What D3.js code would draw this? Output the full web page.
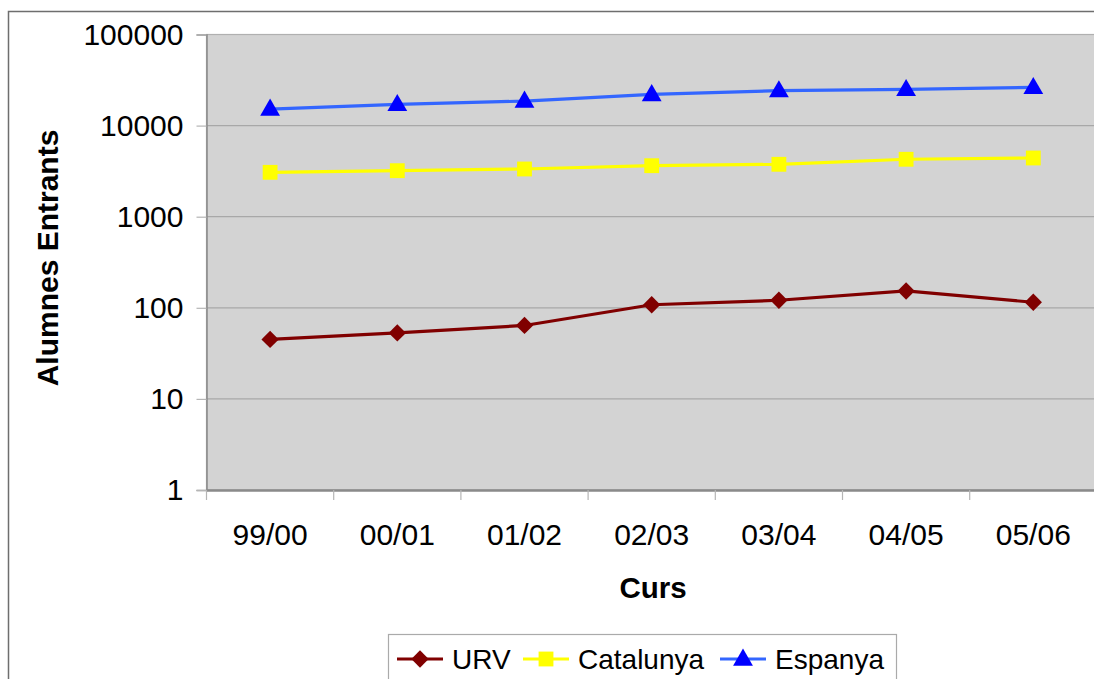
<!DOCTYPE html>
<html><head><meta charset="utf-8">
<script src="https://cdn.jsdelivr.net/npm/d3@7"></script>
<style>body{margin:0;background:#fff;overflow:hidden}svg{display:block;font-family:"Liberation Sans",Arial,sans-serif}</style>
</head><body><svg id="c" width="1094" height="679"></svg>
<script>
const categories = ["99/00","00/01","01/02","02/03","03/04","04/05","05/06"];
const urv       = [45, 53, 64, 108, 121, 153, 115];
const catalunya = [3070, 3200, 3340, 3630, 3760, 4270, 4410];
const espanya   = [15200, 17100, 18600, 22000, 24200, 25000, 26300];
const yTicks = [1, 10, 100, 1000, 10000, 100000];
const seriesNames = ["URV", "Catalunya", "Espanya"];

const svg = d3.select("#c");
const L = 206.5, T = 34.5, B = 490, R = 206.5 + 7*127.2;
const x = d3.scaleBand().domain(categories).range([L, R]);
const y = d3.scaleLog().domain([1, 100000]).range([B, T]);

// outer chart border
svg.append("rect").attr("x", 8.5).attr("y", 11.5).attr("width", 1200).attr("height", 800)
  .attr("fill", "#fff").attr("stroke", "#6e6e6e").attr("stroke-width", 1.5);

// plot area
svg.append("rect").attr("x", L).attr("y", T).attr("width", R - L).attr("height", B - T)
  .attr("fill", "#d3d3d3").attr("stroke", "#b0b0b0").attr("stroke-width", 1.2);

// gridlines
svg.append("g").selectAll("line").data(yTicks.slice(1, -1)).join("line")
  .attr("x1", L).attr("x2", R).attr("y1", d => y(d)).attr("y2", d => y(d))
  .attr("stroke", "#a8a8a8").attr("stroke-width", 1.2);

// y axis
const yAxis = d3.axisLeft(y).tickValues(yTicks).tickFormat(d3.format("d")).tickSize(10).tickPadding(13);
const gy = svg.append("g").attr("transform", `translate(${L},0)`).call(yAxis);
gy.select(".domain").attr("stroke", "#8a8a8a").attr("stroke-width", 1.5);
gy.selectAll(".tick line").attr("stroke", "#b5b5b5").attr("stroke-width", 1.2);
gy.selectAll(".tick text").attr("font-size", 30).attr("fill", "#000")
  .attr("font-family", "Liberation Sans, Arial, sans-serif");

// x axis
const xAxis = d3.axisBottom(x).tickSize(0).tickPadding(0);
const gx = svg.append("g").attr("transform", `translate(0,${B})`).call(xAxis);
gx.select(".domain").attr("stroke", "#8a8a8a").attr("stroke-width", 2.5);
gx.selectAll(".tick text").remove();
// boundary ticks
const bounds = categories.map(c => x(c));
svg.append("g").selectAll("line").data(bounds).join("line")
  .attr("x1", d => d).attr("x2", d => d).attr("y1", B).attr("y2", B + 10)
  .attr("stroke", "#b5b5b5").attr("stroke-width", 1.2);
// category labels
svg.append("g").selectAll("text").data(categories).join("text")
  .attr("x", d => x(d) + x.bandwidth()/2).attr("y", 545)
  .attr("text-anchor", "middle").attr("font-size", 30).attr("fill", "#000").text(d => d);

// axis titles
svg.append("text").attr("x", 653).attr("y", 598)
  .attr("text-anchor", "middle").attr("font-size", 29.5).attr("font-weight", "bold").text("Curs");
svg.append("text").attr("transform", "translate(58,258) rotate(-90)")
  .attr("text-anchor", "middle").attr("font-size", 30).attr("font-weight", "bold").text("Alumnes Entrants");

// series
const series = [
  {name: seriesNames[0], values: urv, line: "#800000", fill: "#800000", sym: d3.symbolSquare, size: 150, rot: 45},
  {name: seriesNames[1], values: catalunya, line: "#ffff00", fill: "#ffff00", sym: d3.symbolSquare, size: 220, rot: 0},
  {name: seriesNames[2], values: espanya, line: "#3366ff", fill: "#0000ff", sym: d3.symbolTriangle, size: 170, rot: 0}
];
const cx = c => x(c) + x.bandwidth()/2;
const line = d3.line().x((d, i) => cx(categories[i])).y(d => y(d));
series.forEach(s => {
  svg.append("path").datum(s.values).attr("d", line).attr("fill", "none")
    .attr("stroke", s.line).attr("stroke-width", 3.2);
  svg.append("g").selectAll("path").data(s.values).join("path")
    .attr("transform", (d, i) => `translate(${cx(categories[i])},${y(d) + (s.sym === d3.symbolTriangle ? 1 : 0)}) rotate(${s.rot})`)
    .attr("d", d3.symbol().type(s.sym).size(s.size)).attr("fill", s.fill);
});

// legend
svg.append("rect").attr("x", 388.5).attr("y", 634.5).attr("width", 508).attr("height", 80)
  .attr("fill", "#fff").attr("stroke", "#aaaaaa").attr("stroke-width", 1.2);
const lx = [397, 523, 720];
const lg = svg.append("g");
series.forEach((s, i) => {
  const g = lg.append("g").attr("transform", `translate(${lx[i]},659)`);
  g.append("line").attr("x1", 0).attr("x2", 46).attr("stroke", s.line).attr("stroke-width", 3.2);
  g.append("path").attr("transform", `translate(23,${s.sym === d3.symbolTriangle ? 1 : 0}) rotate(${s.rot})`)
    .attr("d", d3.symbol().type(s.sym).size(s.size)).attr("fill", s.fill);
  g.append("text").attr("x", 55).attr("y", 10).attr("font-size", 28).attr("fill", "#000").text(s.name);
});
</script></body></html>
